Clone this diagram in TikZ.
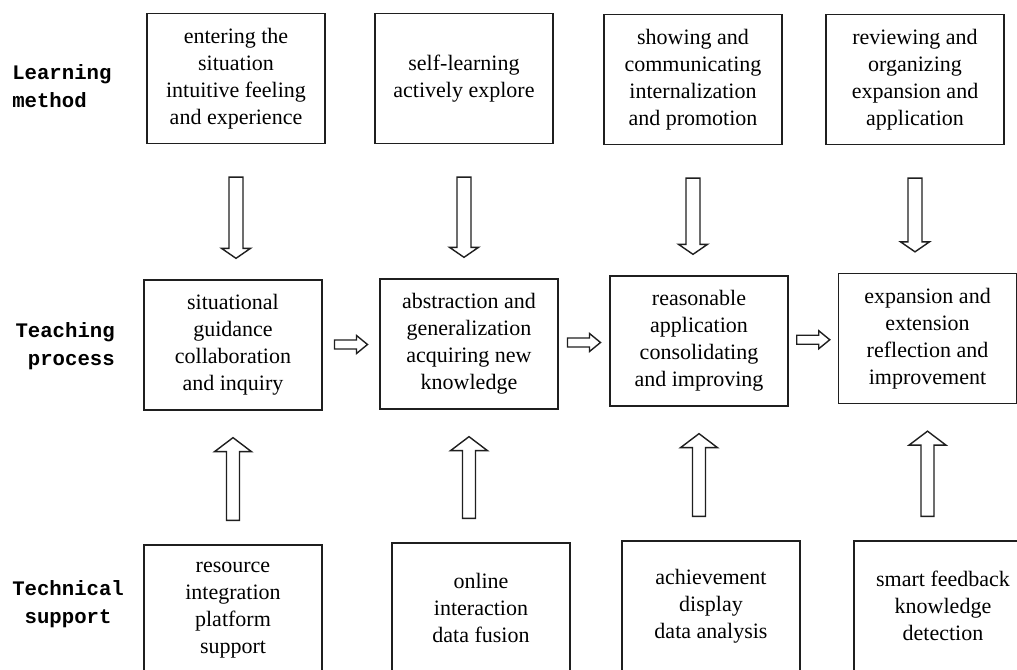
\documentclass[tikz,border=0pt]{standalone}
\usepackage[svgnames]{xcolor}
\usepackage{fontspec}
\setmainfont{Liberation Serif}
\newfontfamily\rowfont{Liberation Mono}
\usepackage{tikz}
\usetikzlibrary{calc}
\tikzset{
  every stage/.style={draw=frame,line width=1pt},
  stage/.style={every stage,minimum width=133.5pt,minimum height=97.5pt,
    inner sep=0pt,align=center,font=\fontsize{16.5}{20.25}\selectfont},
  rowname/.style={inner sep=0pt,font=\rowfont\bfseries\fontsize{15.5}{21}\selectfont},
  hollow/.style={draw=frame,line width=1.05pt,fill=white},
  downarrow/.style={hollow,to path={let \p1=(\tikztostart.south),\p2=(\tikztotarget.north) in
    ($(\x1,\y1)+(-7,33)$) -- ($(\x1,\y2)+(-7,-31)$) -- ($(\x1,\y2)+(-14.5,-31)$)
    -- ($(\x1,\y2)+(0,-21)$) -- ($(\x1,\y2)+(14.5,-31)$) -- ($(\x1,\y2)+(7,-31)$)
    -- ($(\x1,\y1)+(7,33)$) -- cycle}},
  uparrow/.style={hollow,to path={let \p1=(\tikztostart.north),\p2=(\tikztotarget.south) in
    ($(\x2,\y1)+(-6.5,-24)$) -- ($(\x2,\y2)+(-6.5,41)$) -- ($(\x2,\y2)+(-18.5,41)$)
    -- ($(\x2,\y2)+(0,27)$) -- ($(\x2,\y2)+(18.5,41)$) -- ($(\x2,\y2)+(6.5,41)$)
    -- ($(\x2,\y1)+(6.5,-24)$) -- cycle}},
  rightarrow/.style={hollow,to path={let \p1=(\tikztostart.east),\p2=(\tikztotarget.west),
    \p3=($(\p1)!0.5!(\p2)$) in
    ($(\p3)+(-16.5,-4.5)$) -- ($(\p3)+(5.5,-4.5)$) -- ($(\p3)+(5.5,-9)$) -- ($(\p3)+(16.5,0)$)
    -- ($(\p3)+(5.5,9)$) -- ($(\p3)+(5.5,4.5)$) -- ($(\p3)+(-16.5,4.5)$) -- cycle}},
}
\colorlet{frame}{black!88}

\begin{document}
\begin{tikzpicture}[x=0.75pt,y=-0.75pt]
\clip (0,0) rectangle (1017,670);
\fill[white] (0,0) rectangle (1017,670);
% row names
\node[rowname,anchor=west,align=left] (learn) at (12,86.5) {Learning\\method};
\node[rowname,anchor=east,align=right] (teach) at (115,346.5) {Teaching\\process};
\node[rowname,anchor=west,align=center] (tech) at (12,604.5) {Technical\\support};
% learning method
\node[stage] (t1) at (236,78.5) {entering the\\situation\\intuitive feeling\\and experience};
\node[stage] (t2) at (464,78.5) {self-learning\\actively explore};
\node[stage] (t3) at (693,79.5) {showing and\\communicating\\internalization\\and promotion};
\node[stage] (t4) at (915,79.5) {reviewing and\\organizing\\expansion and\\application};
% teaching process
\node[stage] (m1) at (233,345) {situational\\guidance\\collaboration\\and inquiry};
\node[stage] (m2) at (469,344) {abstraction and\\generalization\\acquiring new\\knowledge};
\node[stage] (m3) at (699,341) {reasonable\\application\\consolidating\\and improving};
\node[stage] (m4) at (927.5,338.5) {expansion and\\extension\\reflection and\\improvement};
% technical support
\node[stage] (b1) at (233,610) {resource\\integration\\platform\\support};
\node[stage] (b2) at (481,608) {online\\interaction\\data fusion};
\node[stage] (b3) at (711,606) {achievement\\display\\data analysis};
\node[stage] (b4) at (943,606) {smart feedback\\knowledge\\detection};
% arrows
\foreach \i in {1,...,4}
{
  \draw[downarrow] (t\i) to (m\i);
  \draw[uparrow] (b\i) to (m\i);
}
\foreach \a/\b in {m1/m2,m2/m3,m3/m4}
  \draw[rightarrow] (\a) to (\b);
\end{tikzpicture}
\end{document}
